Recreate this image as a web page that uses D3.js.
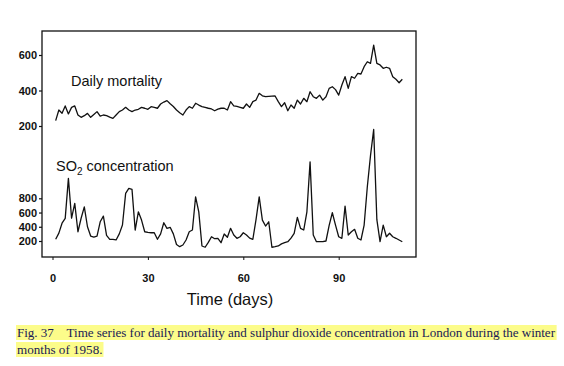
<!DOCTYPE html>
<html><head><meta charset="utf-8">
<script src="https://cdn.jsdelivr.net/npm/d3@7"></script>
<style>
html,body{margin:0;padding:0;background:#fff;}
svg{display:block;}
</style></head>
<body>
<script>
// Daily mortality, days 1..110
const mortality = [230,290,272,313,268,305,313,262,249,258,
  271,249,265,281,256,262,258,250,243,262,
  281,290,305,290,281,290,294,305,300,294,
  309,305,300,324,335,343,325,310,290,275,
  262,290,309,300,328,318,309,305,300,296,
  286,295,300,300,290,337,313,310,305,300,
  324,305,337,346,384,370,365,367,368,369,
  337,309,331,286,318,300,346,324,356,337,
  393,365,356,374,346,365,412,421,405,374,
  431,478,412,478,469,497,493,534,562,553,
  656,553,544,525,531,525,478,463,444,463];
// SO2 concentration, days 1..110
const so2 = [224,310,450,518,1080,520,729,330,520,680,
  400,270,255,270,470,550,280,224,224,215,
  300,424,870,940,925,354,610,494,330,320,
  316,316,224,300,457,378,392,300,150,120,
  144,214,330,354,821,610,130,112,180,260,
  232,238,176,298,252,378,284,238,260,316,
  284,240,224,500,821,494,410,470,112,120,
  130,160,176,190,240,308,532,378,354,610,
  1312,284,190,190,190,200,420,597,424,260,
  238,690,284,330,364,238,214,424,962,1400,
  1767,500,190,424,260,308,260,238,214,190];
const days = d3.range(1, mortality.length + 1);
const xTicks = [0, 30, 60, 90];
const mortTicks = [200, 400, 600];
const so2Ticks = [200, 400, 600, 800];
const captionLines = [
  "Fig. 37    Time series for daily mortality and sulphur dioxide concentration in London during the winter",
  "months of 1958."
];

const W = 564, H = 366;
const svg = d3.select("body").append("svg").attr("width", W).attr("height", H);

const frame = {left: 42, right: 416, top: 31, bottom: 257};
const x = d3.scaleLinear().domain([0, 110]).range([52.5, 402.3]);
const yM = d3.scaleLinear().domain([200, 600]).range([126, 55]);
const yS = d3.scaleLinear().domain([200, 800]).range([241, 198.3]);

// frame
svg.append("rect")
  .attr("x", frame.left).attr("y", frame.top)
  .attr("width", frame.right - frame.left).attr("height", frame.bottom - frame.top)
  .attr("fill", "none").attr("stroke", "#111").attr("stroke-width", 1.3);

const tickFont = "Liberation Sans, Arial, sans-serif";

// left axes
const axM = svg.append("g").attr("transform", `translate(${frame.left},0)`)
  .call(d3.axisLeft(yM).tickValues(mortTicks).tickSize(3).tickPadding(2));
const axS = svg.append("g").attr("transform", `translate(${frame.left},0)`)
  .call(d3.axisLeft(yS).tickValues(so2Ticks).tickSize(3).tickPadding(2));
[axM, axS].forEach(g => {
  g.select(".domain").remove();
  g.selectAll("line").attr("stroke", "#111").attr("stroke-width", 1.2);
  g.selectAll("text").attr("font-family", tickFont).attr("font-size", 11)
    .attr("font-weight", "bold").attr("fill", "#111");
});

// bottom axis
const axX = svg.append("g").attr("transform", `translate(0,${frame.bottom})`)
  .call(d3.axisBottom(x).tickValues(xTicks).tickSize(3).tickPadding(14));
axX.select(".domain").remove();
axX.selectAll("line").attr("stroke", "#111").attr("stroke-width", 1);
axX.selectAll("text").attr("font-family", tickFont).attr("font-size", 11)
  .attr("font-weight", "bold").attr("fill", "#111");

// lines
const lineM = d3.line().x((d, i) => x(days[i])).y(d => yM(d));
const lineS = d3.line().x((d, i) => x(days[i])).y(d => yS(d));
svg.append("path").datum(mortality).attr("d", lineM)
  .attr("fill", "none").attr("stroke", "#111").attr("stroke-width", 1.3).attr("stroke-linejoin", "round");
svg.append("path").datum(so2).attr("d", lineS)
  .attr("fill", "none").attr("stroke", "#111").attr("stroke-width", 1.3).attr("stroke-linejoin", "round");

// labels
svg.append("text").attr("x", 71).attr("y", 86)
  .attr("font-family", tickFont).attr("font-size", 14.5).attr("fill", "#111")
  .text("Daily mortality");
const so2Label = svg.append("text").attr("x", 56).attr("y", 171)
  .attr("font-family", tickFont).attr("font-size", 14.5).attr("fill", "#111");
so2Label.append("tspan").text("SO");
so2Label.append("tspan").attr("font-size", 10).attr("dy", 4).text("2");
so2Label.append("tspan").attr("dy", -4).text(" concentration");

svg.append("text").attr("x", 230).attr("y", 305).attr("text-anchor", "middle")
  .attr("font-family", tickFont).attr("font-size", 16.5).attr("fill", "#111")
  .text("Time (days)");

// caption with highlight
const cap = svg.append("g");
const capY = [337, 354];
captionLines.forEach((t, i) => {
  const txt = cap.append("text").attr("x", 17).attr("y", capY[i])
    .attr("font-family", "Liberation Serif, Times New Roman, serif")
    .attr("font-size", 13.1).attr("fill", "#1a1a55")
    .attr("xml:space", "preserve").style("white-space", "pre")
    .text(t);
  if (i === 0) {
    const w = txt.node().getComputedTextLength();
    txt.attr("textLength", 538).attr("lengthAdjust", "spacing");
  }
  const bb = txt.node().getBBox();
  cap.insert("rect", "text").attr("x", bb.x - 1).attr("y", bb.y)
    .attr("width", bb.width + 2).attr("height", bb.height)
    .attr("fill", "#fcfc8a");
});
</script>
</body></html>
